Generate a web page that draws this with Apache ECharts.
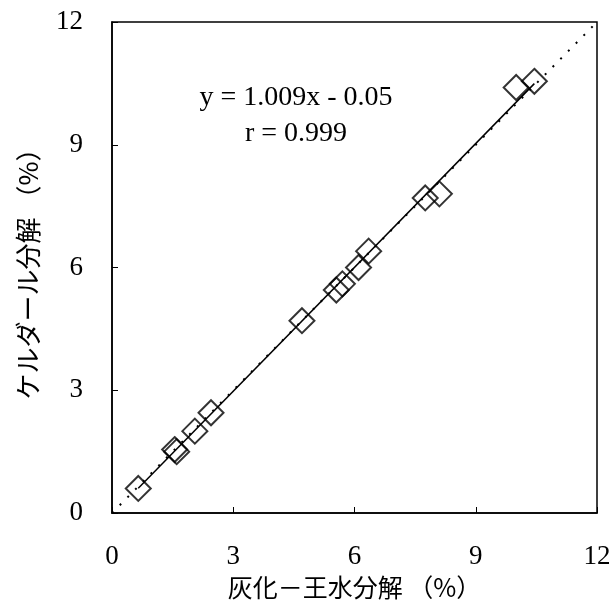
<!DOCTYPE html>
<html>
<head>
<meta charset="utf-8">
<script src="https://cdn.jsdelivr.net/npm/echarts@6/dist/echarts.min.js"></script>
<style>
  html, body { margin: 0; padding: 0; background: #fff; }
  #chart { width: 616px; height: 608px; }
</style>
</head>
<body>
<div id="chart"></div>
<script>
// 灰化－王水分解 (x) vs ケルダール分解 (y), %
const ashX = [0.65, 1.55, 1.6, 2.05, 2.45, 4.7, 5.55, 5.7, 6.1, 6.35, 7.75, 8.1, 10.0, 10.45]
const kjeldahlY = [0.6, 1.55, 1.5, 2.0, 2.45, 4.7, 5.45, 5.6, 6.0, 6.4, 7.7, 7.8, 10.4, 10.55]
const slope = 1.009
const intercept = -0.05
const axisTicks = [0, 3, 6, 9, 12]

const fitLine = [
  [Math.min(...ashX), slope * Math.min(...ashX) + intercept],
  [Math.max(...ashX), slope * Math.max(...ashX) + intercept]
]
const identityLine = [[0, 0], [12, 12]]

const chart = echarts.init(document.getElementById('chart'))

const serif = '"Liberation Serif", "Times New Roman", serif'
const jp = '"Noto Sans CJK JP", sans-serif'

const axisCommon = {
  type: 'value',
  min: axisTicks[0],
  max: axisTicks[axisTicks.length - 1],
  interval: 3,
  axisLine: { show: true, lineStyle: { color: '#000', width: 1.5 } },
  axisTick: { show: true, inside: true, length: 6, lineStyle: { color: '#000', width: 1 } },
  splitLine: { show: false },
  axisLabel: { color: '#000', fontFamily: serif, fontSize: 27 }
}

chart.setOption({
  animation: false,
  backgroundColor: '#fff',
  grid: {
    left: 112, right: 19, top: 22, bottom: 95,
    show: true, borderColor: '#000', borderWidth: 1.5
  },
  xAxis: {
    ...axisCommon,
    axisLabel: { ...axisCommon.axisLabel, margin: 30 },
    name: '灰化－王水分解 （%）',
    nameLocation: 'middle',
    nameGap: 62,
    nameTextStyle: { color: '#000', fontFamily: jp, fontSize: 25 }
  },
  yAxis: {
    ...axisCommon,
    axisLabel: { ...axisCommon.axisLabel, margin: 29 },
    name: 'ケルダール分解 （%）',
    nameLocation: 'middle',
    nameGap: 71,
    nameTextStyle: { color: '#000', fontFamily: jp, fontSize: 26 }
  },
  graphic: [
    {
      type: 'text', x: 296, y: 98,
      style: { text: 'y = 1.009x - 0.05', font: '28px ' + serif, fill: '#000', align: 'center', verticalAlign: 'middle' }
    },
    {
      type: 'text', x: 296, y: 134,
      style: { text: 'r = 0.999', font: '28px ' + serif, fill: '#000', align: 'center', verticalAlign: 'middle' }
    }
  ],
  series: [
    {
      type: 'line',
      data: identityLine,
      symbol: 'none',
      lineStyle: { color: '#000', width: 2, type: [2, 9] },
      z: 1
    },
    {
      type: 'line',
      data: fitLine,
      symbol: 'none',
      lineStyle: { color: '#000', width: 1.5 },
      z: 2
    },
    {
      type: 'scatter',
      data: ashX.map((x, i) => [x, kjeldahlY[i]]),
      symbol: 'diamond',
      symbolSize: [25, 25],
      itemStyle: { color: 'rgba(255,255,255,0)', borderColor: '#000', borderWidth: 2 },
      z: 3
    }
  ]
})
</script>
</body>
</html>
